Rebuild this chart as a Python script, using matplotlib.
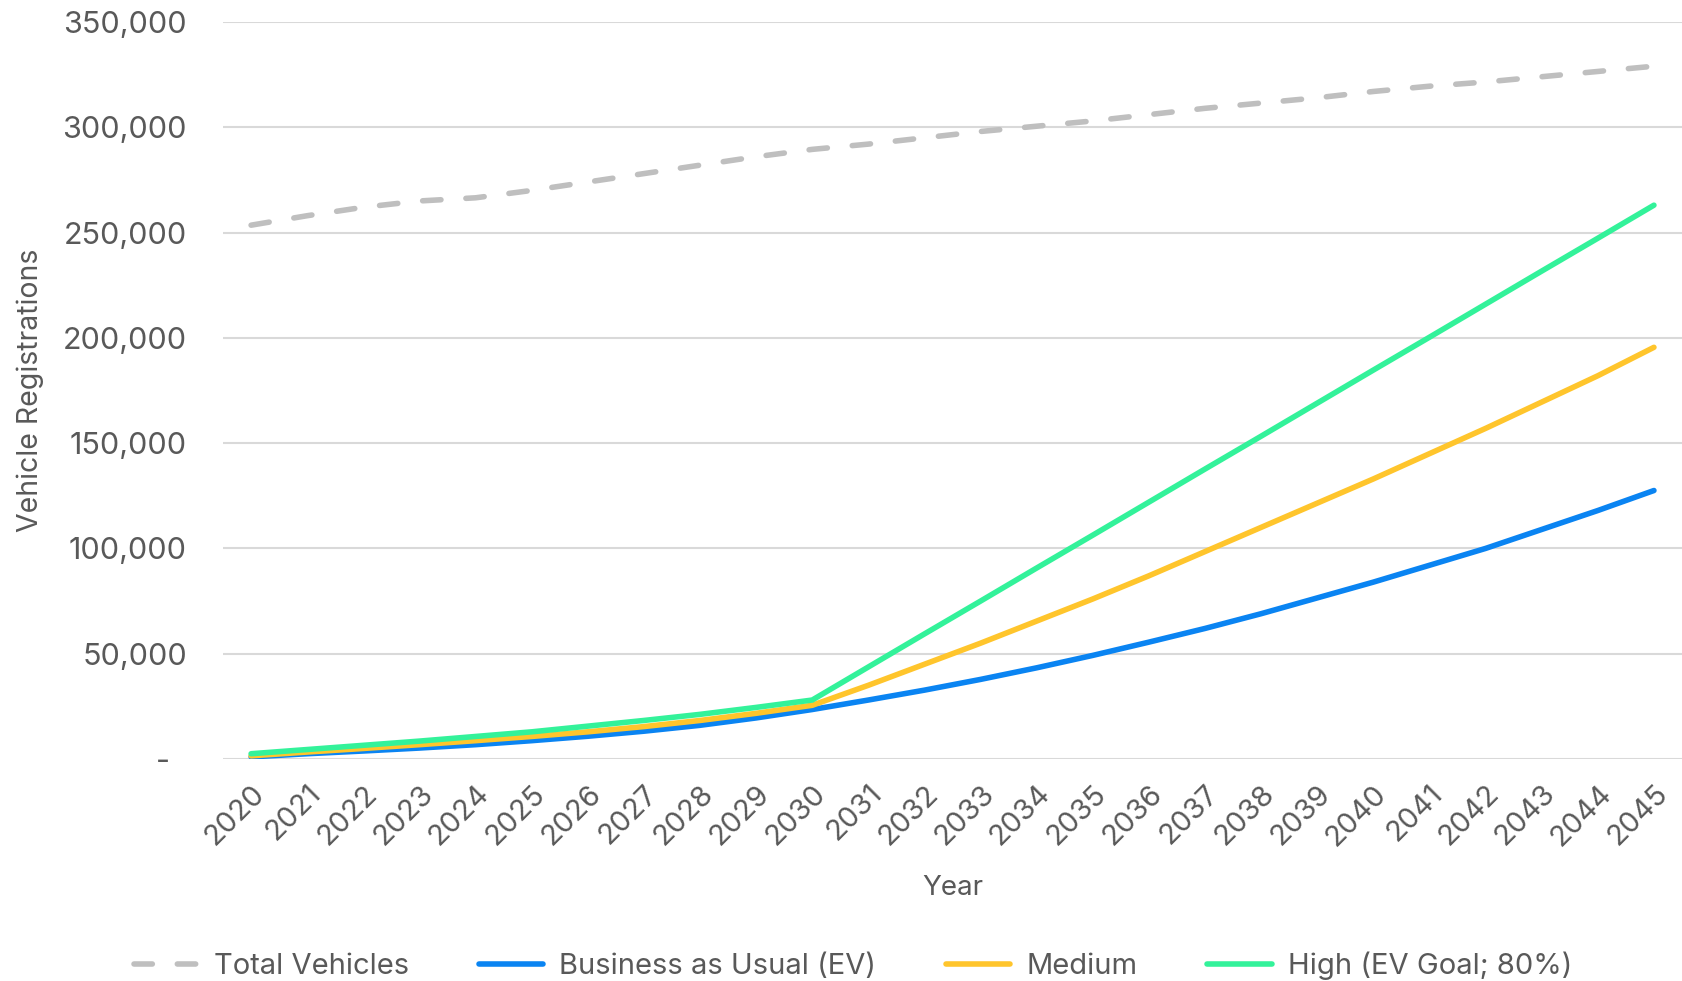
import matplotlib
matplotlib.use('Agg')
import matplotlib.pyplot as plt
from matplotlib.ticker import FuncFormatter, MultipleLocator

# ---- data -------------------------------------------------------------
years = list(range(2020, 2046))

totalVehicles = [253500, 258000, 262000, 265000, 266500, 270000, 274000, 278000,
                 282000, 286000, 289500, 292000, 295000, 298000, 300500, 303000,
                 306000, 309000, 311500, 314000, 317000, 319500, 321500, 324000,
                 326500, 329000]

businessAsUsual = [1000, 2500, 3800, 5200, 6800, 8700, 10800, 13200, 16000, 19500,
                   23500, 28000, 32700, 37800, 43300, 49200, 55500, 62000, 69000,
                   76500, 84000, 92000, 100000, 109000, 118000, 127500]

medium = [1500, 3300, 5000, 6800, 8700, 10700, 12900, 15400, 18300, 21700,
          25500, 35000, 45000, 55000, 65500, 76000, 87000, 98500, 110000,
          121500, 133000, 145000, 157000, 169500, 182000, 195500]

high = [2500, 4500, 6500, 8500, 10700, 12900, 15600, 18300, 21200, 24500,
        28000, 43700, 59400, 75000, 90700, 106300, 122000, 137700, 153300,
        169000, 184700, 200300, 216000, 231700, 247300, 263000]

seriesLabels = ['Total Vehicles', 'Business as Usual (EV)', 'Medium', 'High (EV Goal; 80%)']

# ---- style ------------------------------------------------------------
textColor = '#595959'
plt.rcParams['font.family'] = ['Inter', 'DejaVu Sans']
plt.rcParams['text.color'] = textColor
plt.rcParams['axes.labelcolor'] = textColor
plt.rcParams['xtick.color'] = textColor
plt.rcParams['ytick.color'] = textColor

fig = plt.figure(figsize=(16.82, 9.81), dpi=100)
ax = fig.add_axes([0.1326, 0.2263, 0.8674, 0.7513])

x = list(range(len(years)))
lw = 4.0

ax.plot(x, totalVehicles, color='#BFBFBF', linewidth=lw, dashes=(3.3, 4.5),
        dash_capstyle='round', label=seriesLabels[0])
ax.plot(x, businessAsUsual, color='#0A84F2', linewidth=lw, solid_capstyle='round',
        solid_joinstyle='round', label=seriesLabels[1])
ax.plot(x, medium, color='#FFC52C', linewidth=lw, solid_capstyle='round',
        solid_joinstyle='round', label=seriesLabels[2])
ax.plot(x, high, color='#33F29A', linewidth=lw, solid_capstyle='round',
        solid_joinstyle='round', label=seriesLabels[3])

# ---- axes -------------------------------------------------------------
ax.set_xlim(-0.5, len(years) - 0.5)
ax.set_ylim(0, 350000)
ax.yaxis.set_major_locator(MultipleLocator(50000))


def Format_Thousands(value, pos):
    if value == 0:
        return '-  '
    return '{:,.0f}'.format(value)


ax.yaxis.set_major_formatter(FuncFormatter(Format_Thousands))
ax.grid(axis='y', color='#D9D9D9', linewidth=1.5)
ax.set_axisbelow(True)
for side in ['top', 'right', 'left', 'bottom']:
    ax.spines[side].set_visible(False)

ax.tick_params(axis='both', length=0, labelsize=21)
ax.tick_params(axis='y', labelsize=22, pad=26)
ax.set_xticks(x)
ax.set_xticklabels([str(y) for y in years], rotation=45, ha='right',
                   rotation_mode='anchor')
ax.tick_params(axis='x', pad=15)

ax.set_xlabel('Year', fontsize=20, labelpad=17)
ax.set_ylabel('Vehicle Registrations', fontsize=20.5)
ax.yaxis.set_label_coords(-0.123, 0.5)

fig.legend(loc='lower center', bbox_to_anchor=(0.507, -0.026), ncol=4, frameon=False,
           fontsize=21, handlelength=2.2, columnspacing=2.4, handletextpad=0.55)

fig.savefig('out.png', dpi=100, facecolor='white')
